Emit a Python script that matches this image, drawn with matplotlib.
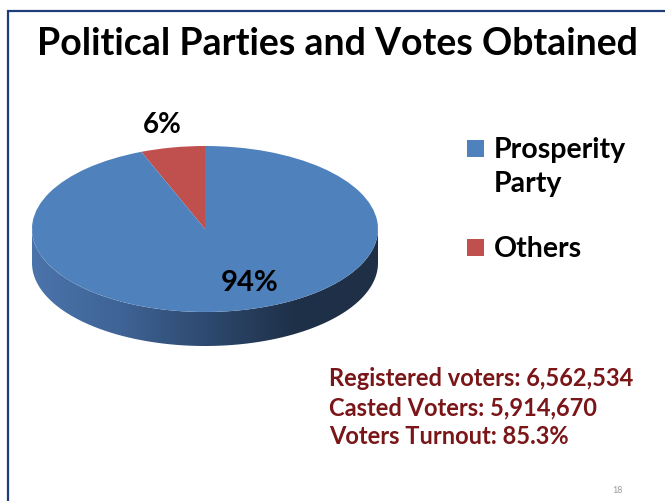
import numpy as np
import matplotlib
matplotlib.use("Agg")
import matplotlib.pyplot as plt
from matplotlib.patches import Wedge, Polygon, Rectangle
from matplotlib.colors import LinearSegmentedColormap
from matplotlib.transforms import Affine2D

# data
labels = ["Prosperity\nParty", "Others"]
shares = [94, 6]
colors = ["#4F81BD", "#C0504D"]
stats = [
    "Registered voters: 6,562,534",
    "Casted Voters: 5,914,670",
    "Voters Turnout: 85.3%",
]
title = "Political Parties and Votes Obtained"
page_no = "18"

plt.rcParams["font.family"] = ["Lato", "DejaVu Sans"]

W, H = 665, 502
fig = plt.figure(figsize=(W / 100, H / 100), dpi=100)
ax = fig.add_axes([0, 0, 1, 1])
ax.set_xlim(0, W)
ax.set_ylim(H, 0)
ax.axis("off")

# slide frame (left + top rule)
ax.plot([8, 8, W + 5], [H + 5, 12, 12], color="#1F3D7A", lw=1.6,
        solid_joinstyle="miter")

ax.text(337, 55, title, ha="center", va="baseline", fontsize=27,
        fontweight="bold", color="black")

# --- pseudo 3D pie ---
cx, cy, rx, ry, depth = 205, 230, 173, 83, 34
ell = Affine2D().scale(rx, -ry).translate(cx, cy) + ax.transData

# side wall (front half), gradient light -> dark
t = np.linspace(np.pi, 2 * np.pi, 200)
top_rim = np.c_[cx + rx * np.cos(t), cy - ry * np.sin(t)]
bot_rim = top_rim[::-1] + [0, depth]
side = Polygon(np.vstack([top_rim, bot_rim]), closed=True, fc="none", ec="none")
ax.add_patch(side)
cmap = LinearSegmentedColormap.from_list(
    "side", ["#4B74AB", "#3F6496", "#2E4A70", "#1F3149", "#1E2F46"])
grad = np.linspace(0, 1, 256)[None, :]
im = ax.imshow(grad, cmap=cmap, extent=[cx - rx, cx + rx, cy + ry + depth, cy],
               aspect="auto", zorder=1, interpolation="bilinear")
im.set_clip_path(side)

# top face wedges, starting at 12 o'clock going counter-clockwise
start = 90.0
for val, col in zip(shares[::-1], colors[::-1]):
    sweep = 360.0 * val / sum(shares)
    ax.add_patch(Wedge((0, 0), 1, start, start + sweep, fc=col, ec="none",
                       transform=ell, zorder=2))
    start += sweep

# percentage labels
ax.text(162, 133, f"{shares[1]}%", ha="center", va="baseline", fontsize=20,
        fontweight="bold", zorder=3)
ax.text(250, 291, f"{shares[0]}%", ha="center", va="baseline", fontsize=21,
        fontweight="bold", zorder=3)

# legend
leg_y = [158, 257]
for lab, col, y in zip(labels, colors, leg_y):
    ax.add_patch(Rectangle((467, y - 17), 17, 17, fc=col, ec="none"))
    for i, line in enumerate(lab.split("\n")):
        ax.text(494, y + 34 * i, line, ha="left", va="baseline", fontsize=20.5,
                fontweight="bold")

# turnout stats
for s, y in zip(stats, [386, 415, 444]):
    ax.text(329, y, s, ha="left", va="baseline", fontsize=17,
            fontweight="bold", color="#7A1518")

ax.text(617, 493, page_no, ha="center", va="baseline", fontsize=6.5,
        color="#9A9A9A")

fig.savefig("out.png", dpi=100)
